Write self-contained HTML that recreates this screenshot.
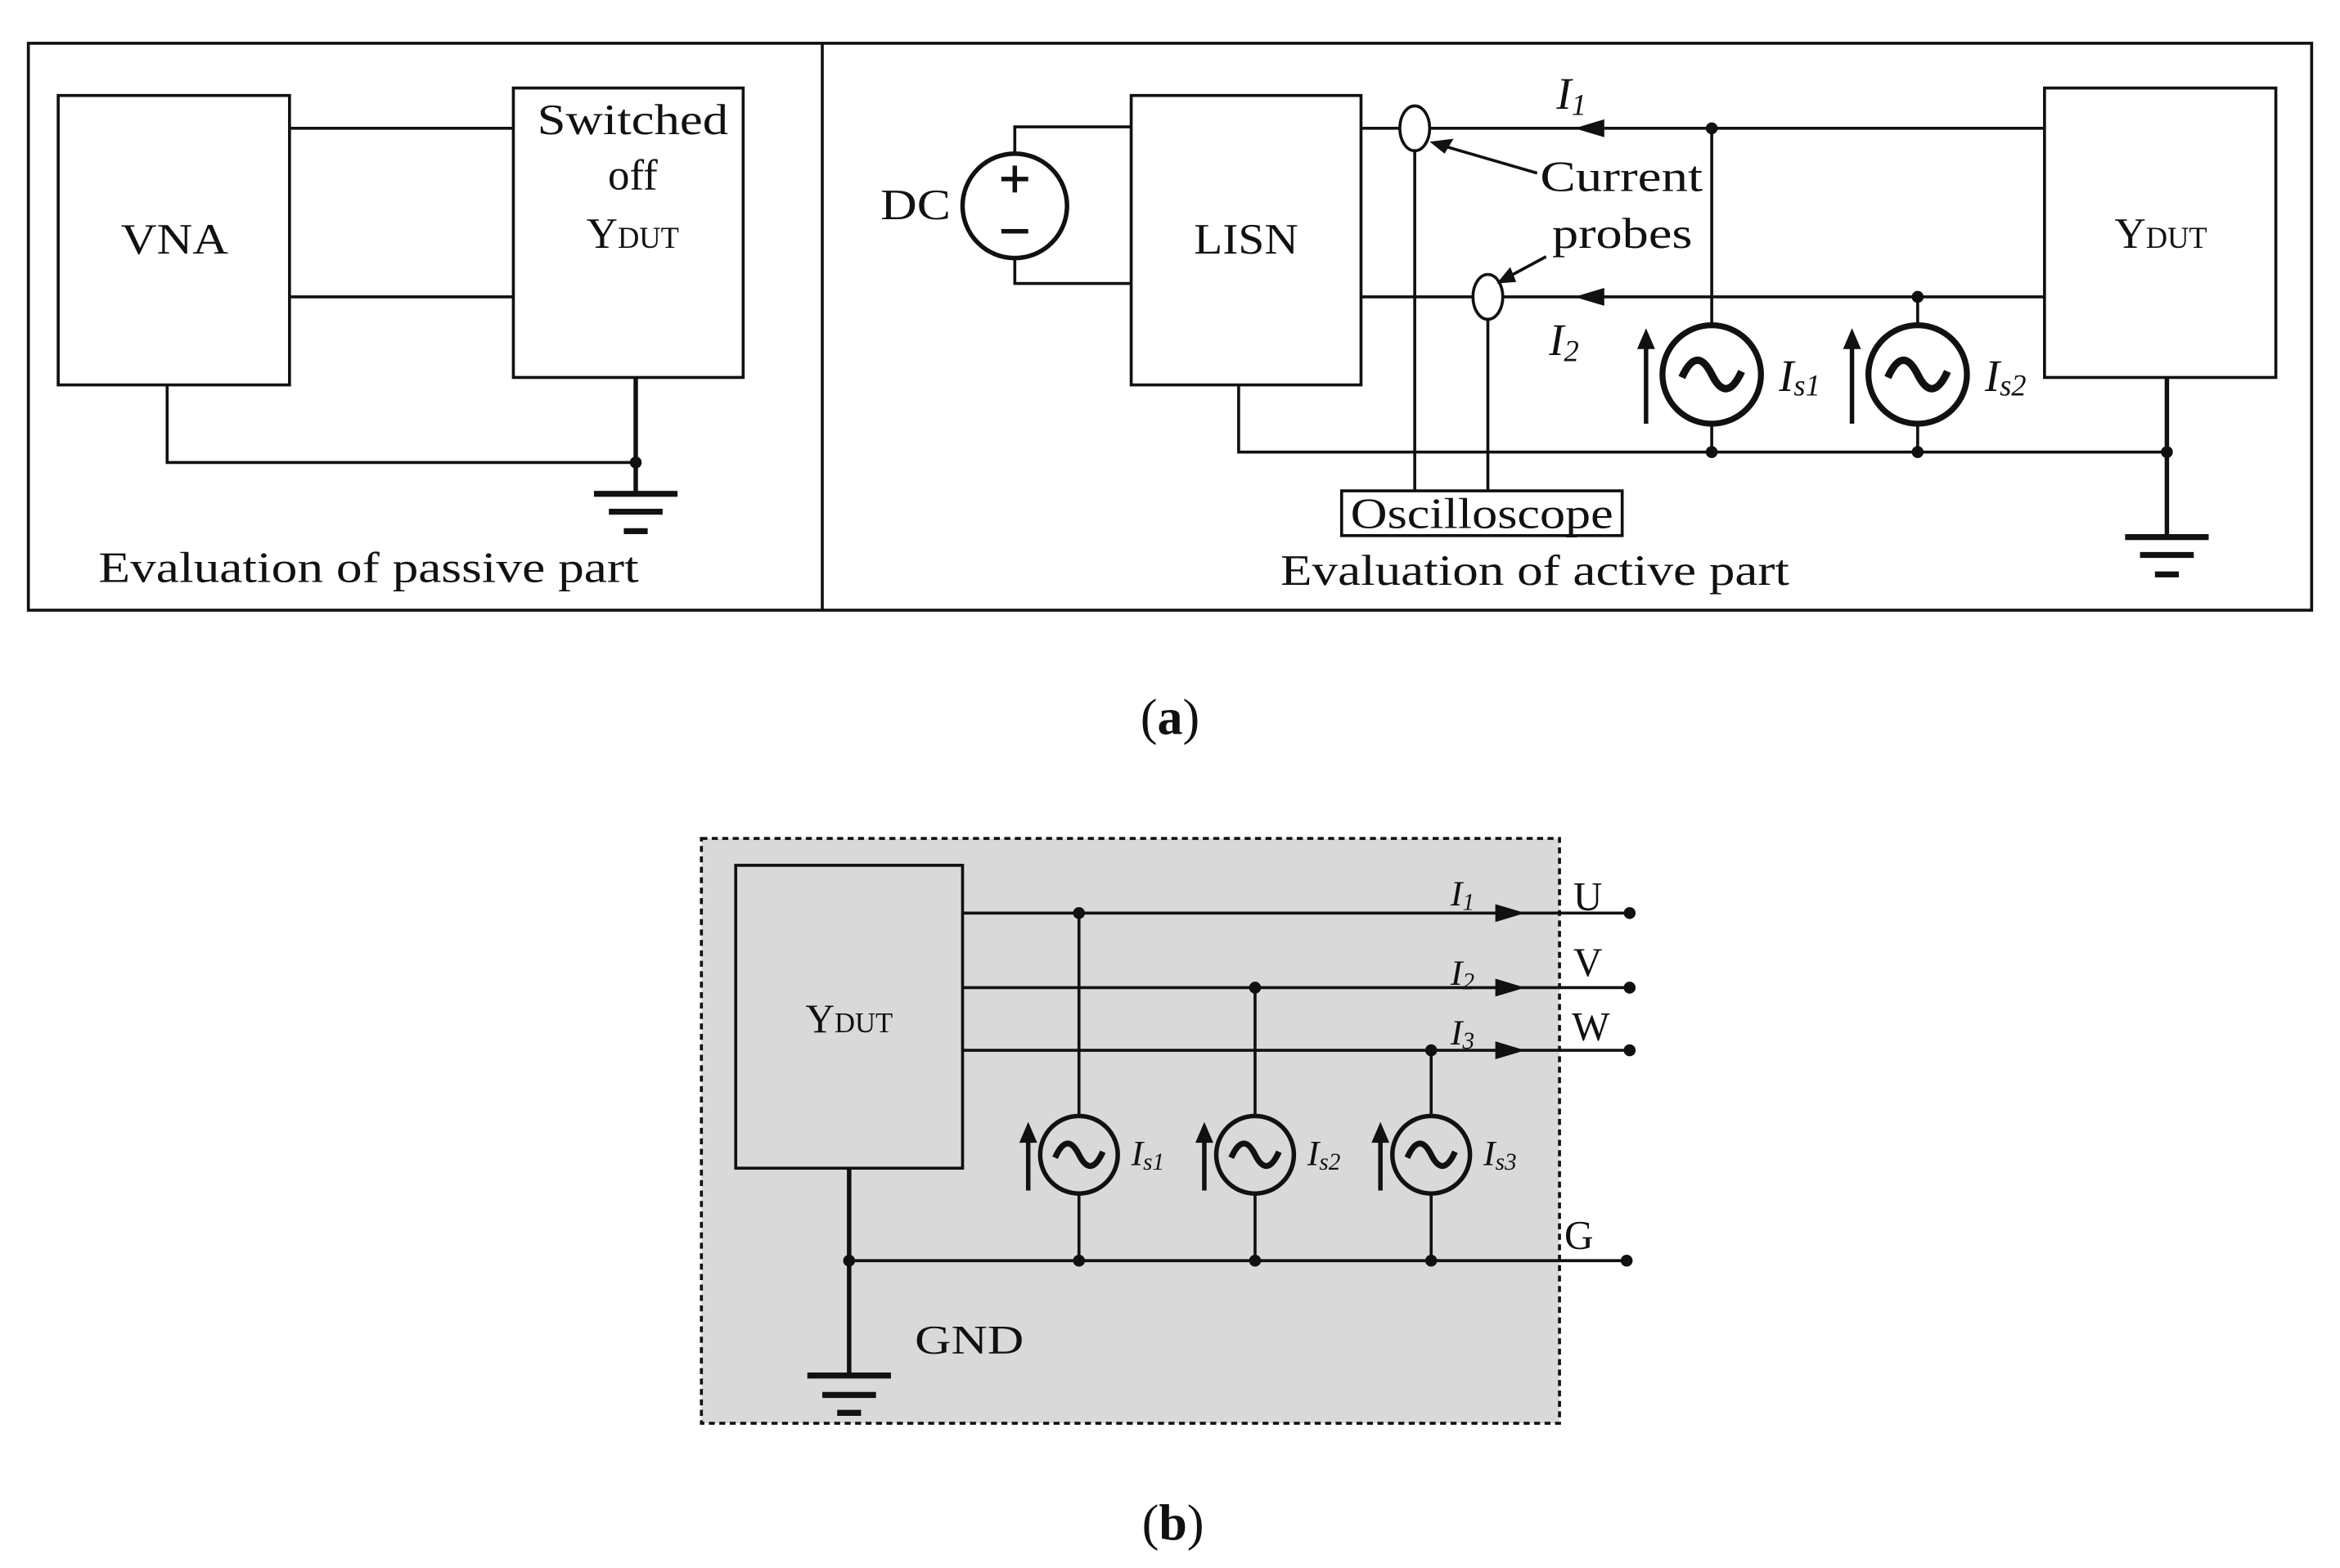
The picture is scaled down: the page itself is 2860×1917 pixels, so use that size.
<!DOCTYPE html>
<html><head><meta charset="utf-8"><style>
html,body{margin:0;padding:0;background:#fff;}
svg{display:block;}
text{font-family:"Liberation Serif",serif;fill:#111;}
</style></head><body>
<svg width="2860" height="1917" viewBox="0 0 1568 1051" preserveAspectRatio="none" xmlns="http://www.w3.org/2000/svg">
<g stroke="#111" stroke-width="2" fill="none">
<rect x="19" y="29" width="1530" height="380"/>
<line x1="551" y1="29" x2="551" y2="409"/>
<rect x="39" y="64" width="155" height="194"/>
<rect x="344" y="59" width="154" height="194"/>
<line x1="194" y1="86" x2="344" y2="86"/>
<line x1="194" y1="199" x2="344" y2="199"/>
<line x1="426" y1="253" x2="426" y2="331" stroke-width="3"/>
<polyline points="112,258 112,310 426,310"/>
<line x1="398" y1="331" x2="454" y2="331" stroke-width="4"/>
<line x1="408" y1="343" x2="444" y2="343" stroke-width="4"/>
<line x1="418" y1="356" x2="434" y2="356" stroke-width="4"/>
<circle cx="680" cy="138" r="35" stroke-width="3"/>
<polyline points="680,103 680,85 758,85"/>
<polyline points="680,173 680,190 758,190"/>
<line x1="680" y1="111" x2="680" y2="129" stroke-width="3"/><line x1="671" y1="120" x2="689" y2="120" stroke-width="3"/>
<line x1="671" y1="155" x2="689" y2="155" stroke-width="3"/>
<rect x="758" y="64" width="154" height="194"/>
<line x1="912" y1="86" x2="1370" y2="86"/>
<line x1="912" y1="199" x2="1370" y2="199"/>
<rect x="1370" y="59" width="155" height="194"/>
<ellipse cx="948" cy="86" rx="10" ry="15" fill="#fff"/>
<ellipse cx="997" cy="199" rx="10" ry="15" fill="#fff"/>
<line x1="948" y1="101" x2="948" y2="329"/>
<line x1="997" y1="214" x2="997" y2="329"/>
<rect x="899" y="329" width="188" height="30"/>
<polyline points="830,258 830,303 1452,303"/>
<line x1="1452" y1="253" x2="1452" y2="360" stroke-width="3"/>
<line x1="1424" y1="360" x2="1480" y2="360" stroke-width="4"/>
<line x1="1434" y1="372" x2="1470" y2="372" stroke-width="4"/>
<line x1="1444" y1="385" x2="1460" y2="385" stroke-width="4"/>
<line x1="1147" y1="86" x2="1147" y2="218"/><line x1="1147" y1="284" x2="1147" y2="303"/>
<line x1="1285" y1="199" x2="1285" y2="218"/><line x1="1285" y1="284" x2="1285" y2="303"/>
<circle cx="1147" cy="251" r="33" stroke-width="4"/>
<circle cx="1285" cy="251" r="33" stroke-width="4"/>
<path d="M1127,253 q10,-22 20,-2 q10,20 20,-2" stroke-width="5"/>
<path d="M1265,253 q10,-22 20,-2 q10,20 20,-2" stroke-width="5"/>
<line x1="1103" y1="284" x2="1103" y2="230" stroke-width="3"/>
<line x1="1241" y1="284" x2="1241" y2="230" stroke-width="3"/>
<line x1="1030" y1="116" x2="968" y2="98"/>
<line x1="1036" y1="172" x2="1010" y2="186"/>
<rect x="470" y="562" width="575" height="392" fill="#d9d9d9" stroke-dasharray="4,3"/>
<rect x="493" y="580" width="152" height="203"/>
<line x1="645" y1="612" x2="1092" y2="612"/>
<line x1="645" y1="662" x2="1092" y2="662"/>
<line x1="645" y1="704" x2="1092" y2="704"/>
<line x1="569" y1="845" x2="1090" y2="845"/>
<line x1="569" y1="783" x2="569" y2="922" stroke-width="3"/>
<line x1="541" y1="922" x2="597" y2="922" stroke-width="4"/>
<line x1="551" y1="935" x2="587" y2="935" stroke-width="4"/>
<line x1="561" y1="947" x2="577" y2="947" stroke-width="4"/>
<line x1="723" y1="612" x2="723" y2="748"/><line x1="723" y1="800" x2="723" y2="845"/>
<line x1="841" y1="662" x2="841" y2="748"/><line x1="841" y1="800" x2="841" y2="845"/>
<line x1="959" y1="704" x2="959" y2="748"/><line x1="959" y1="800" x2="959" y2="845"/>
<circle cx="723" cy="774" r="26" stroke-width="3"/>
<circle cx="841" cy="774" r="26" stroke-width="3"/>
<circle cx="959" cy="774" r="26" stroke-width="3"/>
<path d="M707,776 q8,-18 16,-2 q8,16 16,-2" stroke-width="4"/>
<path d="M825,776 q8,-18 16,-2 q8,16 16,-2" stroke-width="4"/>
<path d="M943,776 q8,-18 16,-2 q8,16 16,-2" stroke-width="4"/>
<line x1="689" y1="798" x2="689" y2="762" stroke-width="3"/>
<line x1="807" y1="798" x2="807" y2="762" stroke-width="3"/>
<line x1="925" y1="798" x2="925" y2="762" stroke-width="3"/>
</g>
<g fill="#111">
<circle cx="426" cy="310" r="4"/>
<circle cx="1147" cy="86" r="4"/><circle cx="1147" cy="303" r="4"/>
<circle cx="1285" cy="199" r="4"/><circle cx="1285" cy="303" r="4"/>
<circle cx="1452" cy="303" r="4"/>
<polygon points="1055,86 1075,80 1075,92"/>
<polygon points="1055,199 1075,193 1075,205"/>
<polygon points="958,95 974,93 968,103"/>
<polygon points="1003,190 1012,179 1016,189"/>
<polygon points="1103,220 1097,234 1109,234"/>
<polygon points="1241,220 1235,234 1247,234"/>
<circle cx="723" cy="612" r="4"/><circle cx="723" cy="845" r="4"/>
<circle cx="841" cy="662" r="4"/><circle cx="841" cy="845" r="4"/>
<circle cx="959" cy="704" r="4"/><circle cx="959" cy="845" r="4"/>
<circle cx="569" cy="845" r="4"/>
<circle cx="1092" cy="612" r="4"/><circle cx="1092" cy="662" r="4"/><circle cx="1092" cy="704" r="4"/><circle cx="1090" cy="845" r="4"/>
<polygon points="1022,612 1002,606 1002,618"/>
<polygon points="1022,662 1002,656 1002,668"/>
<polygon points="1022,704 1002,698 1002,710"/>
<polygon points="689,752 683,766 695,766"/>
<polygon points="807,752 801,766 813,766"/>
<polygon points="925,752 919,766 931,766"/>
</g>
<g font-size="29">
<text x="81" y="170" textLength="72" lengthAdjust="spacingAndGlyphs">VNA</text>
<text x="360" y="90" textLength="128" lengthAdjust="spacingAndGlyphs">Switched</text>
<text x="424" y="127" text-anchor="middle">off</text>
<text x="424" y="166" text-anchor="middle">Y<tspan font-size="20">DUT</tspan></text>
<text x="66" y="390" textLength="362" lengthAdjust="spacingAndGlyphs">Evaluation of passive part</text>
<text x="590" y="147" textLength="47" lengthAdjust="spacingAndGlyphs">DC</text>
<text x="800" y="170" textLength="70" lengthAdjust="spacingAndGlyphs">LISN</text>
<text x="1448" y="166" text-anchor="middle">Y<tspan font-size="20">DUT</tspan></text>
<text x="1032" y="128" textLength="109" lengthAdjust="spacingAndGlyphs">Current</text>
<text x="1040" y="166" textLength="94" lengthAdjust="spacingAndGlyphs">probes</text>
<text x="905" y="354" textLength="176" lengthAdjust="spacingAndGlyphs">Oscilloscope</text>
<text x="858" y="392" textLength="341" lengthAdjust="spacingAndGlyphs">Evaluation of active part</text>
<text x="1043" y="73" font-style="italic" font-size="30">I<tspan font-size="20" dy="4">1</tspan></text>
<text x="1038" y="238" font-style="italic" font-size="30">I<tspan font-size="20" dy="4">2</tspan></text>
<text x="1192" y="262" font-style="italic" font-size="30">I<tspan font-size="20" dy="3">s1</tspan></text>
<text x="1330" y="262" font-style="italic" font-size="30">I<tspan font-size="20" dy="3">s2</tspan></text>
<text x="784" y="492" text-anchor="middle" font-size="34">(<tspan font-weight="bold">a</tspan>)</text>
<text x="569" y="692" text-anchor="middle" font-size="27">Y<tspan font-size="19">DUT</tspan></text>
<text x="1064" y="610" text-anchor="middle" font-size="27">U</text>
<text x="1064" y="654" text-anchor="middle" font-size="27">V</text>
<text x="1066" y="697" text-anchor="middle" font-size="27">W</text>
<text x="1058" y="837" text-anchor="middle" font-size="27">G</text>
<text x="613" y="907" font-size="27" textLength="73" lengthAdjust="spacingAndGlyphs">GND</text>
<text x="972" y="607" font-style="italic" font-size="24">I<tspan font-size="16" dy="3">1</tspan></text>
<text x="972" y="660" font-style="italic" font-size="24">I<tspan font-size="16" dy="3">2</tspan></text>
<text x="972" y="700" font-style="italic" font-size="24">I<tspan font-size="16" dy="3">3</tspan></text>
<text x="758" y="781" font-style="italic" font-size="24">I<tspan font-size="16" dy="3">s1</tspan></text>
<text x="876" y="781" font-style="italic" font-size="24">I<tspan font-size="16" dy="3">s2</tspan></text>
<text x="994" y="781" font-style="italic" font-size="24">I<tspan font-size="16" dy="3">s3</tspan></text>
<text x="786" y="1032" text-anchor="middle" font-size="34">(<tspan font-weight="bold">b</tspan>)</text>
</g>
</svg>
</body></html>
